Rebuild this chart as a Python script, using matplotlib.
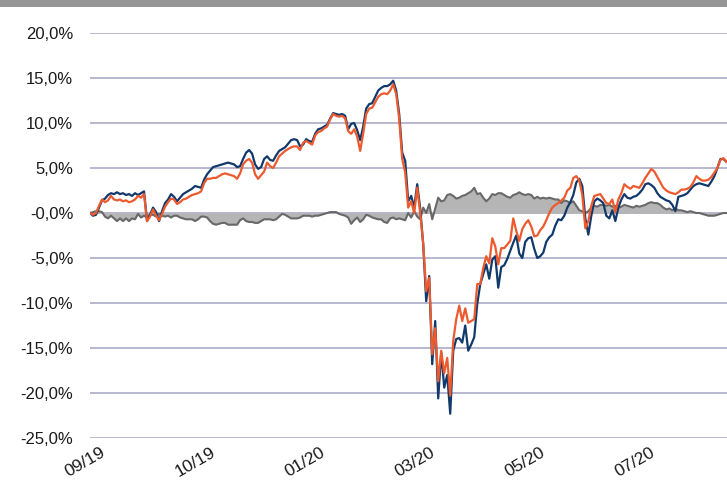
import numpy as np
import matplotlib
matplotlib.use("Agg")
import matplotlib.pyplot as plt
from matplotlib.patches import Rectangle

# ----------------------------------------------------------
# Data (percent), one value per observation
# ----------------------------------------------------------
navy = [
    0.0, -0.3, -0.2, 0.6, 1.4, 1.6, 2.0, 2.2, 2.1, 2.3,
    2.1, 2.2, 2.0, 2.1, 1.9, 2.2, 2.0, 2.2, 2.4, -0.9,
    -0.2, 0.6, 0.1, -0.9, 0.2, 1.1, 1.5, 2.1, 1.8, 1.3,
    1.7, 2.1, 2.3, 2.5, 2.7, 3.0, 2.9, 2.8, 3.7, 4.3,
    4.7, 5.1, 5.2, 5.3, 5.4, 5.5, 5.6, 5.5, 5.4, 5.1,
    5.2, 6.0, 6.7, 7.0, 6.6, 5.4, 4.9, 5.1, 6.0, 6.3,
    5.9, 5.8, 6.4, 6.9, 7.1, 7.3, 7.7, 8.1, 8.2, 8.1,
    7.4, 7.6, 8.2, 8.0, 7.9, 8.8, 9.3, 9.4, 9.6, 9.8,
    10.5, 11.1, 11.0, 10.9, 11.0, 10.8, 9.3, 9.9, 10.0, 9.2,
    8.1, 9.6, 11.6, 12.1, 12.2, 12.9, 13.6, 13.9, 14.1, 14.1,
    14.3, 14.7, 13.6, 11.0, 6.7, 5.8, 1.3, 1.9, 0.6, 3.2,
    0.5, -3.5, -9.8, -7.0, -16.8, -12.0, -20.6, -15.5, -19.4, -18.0,
    -22.3, -15.3, -14.0, -13.9, -14.4, -12.5, -15.3, -14.6, -13.8, -10.1,
    -7.9, -6.8, -5.7, -7.3, -5.2, -4.8, -8.3, -6.0, -5.8, -5.1,
    -4.2, -3.3, -2.5, -4.5, -5.0, -3.2, -2.8, -2.7, -4.0, -5.0,
    -4.8, -4.4, -3.2, -2.7, -2.4, -1.4, -0.7, -0.8, -0.3, 0.6,
    1.2, 2.0, 3.4, 3.8, 3.0, -0.6, -2.4, -0.3, 1.3, 1.6,
    1.4, 1.1, -0.3, -0.6, 0.3, -0.9, 0.6, 1.5, 2.1, 1.7,
    1.6, 1.8, 1.9, 2.2, 2.6, 3.2, 3.3, 3.1, 2.8, 2.2,
    1.8, 1.6, 1.4, 1.3, 0.9, 0.2, 1.8, 1.9, 2.0, 2.2,
    2.6, 3.0, 3.2, 3.3, 3.2, 3.1, 3.0, 3.5, 4.1, 5.0,
    6.0, 6.0, 5.7,
]

orange = [
    0.0, -0.2, 0.0, 0.8, 1.5, 1.2, 1.4, 1.9, 1.5, 1.4,
    1.5, 1.3, 1.4, 1.2, 1.3, 1.5, 1.9, 1.7, 2.1, -0.9,
    -0.4, 0.4, -0.3, -0.8, -0.1, 0.7, 1.2, 1.6, 1.5, 1.0,
    1.2, 1.5, 1.6, 1.8, 2.0, 2.1, 2.2, 2.4, 3.3, 3.8,
    3.8, 3.9, 3.9, 4.1, 4.3, 4.4, 4.3, 4.2, 4.1, 3.8,
    4.4, 5.4, 5.8, 6.0, 5.6, 4.3, 3.8, 4.2, 4.6, 5.6,
    5.2, 5.0, 5.6, 6.3, 6.6, 6.9, 7.1, 7.3, 7.4, 7.4,
    7.0, 7.8, 8.0, 7.8, 7.6, 8.6, 9.0, 9.1, 9.4, 9.6,
    10.4, 11.0, 10.8, 10.7, 10.8, 10.5, 9.1, 8.8, 9.3, 8.5,
    6.9, 8.8, 11.0, 11.6, 11.7, 12.3, 12.9, 13.2, 13.3, 13.2,
    13.6, 14.3, 13.2, 10.5, 6.0, 4.5, 0.6, 1.3, 0.0, 2.8,
    0.0, -3.4, -8.7, -7.2, -15.7, -12.8, -18.7, -15.3, -17.8, -16.1,
    -20.3, -14.2, -11.8, -10.3, -12.0, -10.6, -12.2, -12.0, -11.8, -7.9,
    -7.9, -6.1, -4.8, -5.6, -2.8, -3.7, -5.7, -3.9, -3.9, -3.5,
    -3.1, -0.6, -2.0, -3.1, -1.8, -1.2, -0.8, -1.5, -2.6, -2.5,
    -1.9, -1.5, -0.8, 0.0, 0.6, 0.9, 1.1, 1.4, 1.7, 2.5,
    2.8, 3.9, 4.1, 3.6, 2.0, -1.7, -0.9, 0.8, 1.9, 2.0,
    2.1, 1.6, 1.1, 1.0, 1.5, 0.1, 1.5, 2.2, 3.2, 2.9,
    2.7, 3.0, 2.9, 2.8, 3.3, 3.9, 4.4, 4.9, 4.6, 4.0,
    3.4, 2.8, 2.5, 2.3, 2.2, 2.1, 2.3, 2.6, 2.6, 2.7,
    2.9, 3.4, 4.1, 3.8, 3.6, 3.6, 3.7, 4.0, 4.5, 5.0,
    5.9, 6.1, 5.7,
]

spread = [
    0.0, 0.1, 0.2, 0.2, 0.1, -0.4, -0.6, -0.3, -0.6, -0.9,
    -0.6, -0.9, -0.6, -0.9, -0.6, -0.7, -0.1, -0.5, -0.3, -0.5,
    -0.2, -0.2, -0.4, -0.1, -0.3, -0.4, -0.3, -0.5, -0.3, -0.3,
    -0.5, -0.6, -0.7, -0.7, -0.7, -0.9, -0.7, -0.4, -0.4, -0.5,
    -0.9, -1.2, -1.3, -1.2, -1.1, -1.1, -1.3, -1.3, -1.3, -1.3,
    -0.8, -0.6, -0.9, -1.0, -1.0, -1.1, -1.1, -0.9, -0.7, -0.7,
    -0.7, -0.8, -0.7, -0.4, -0.1, -0.2, -0.4, -0.6, -0.6, -0.6,
    -0.5, -0.3, -0.3, -0.3, -0.4, -0.3, -0.3, -0.2, -0.1, 0.0,
    0.1, 0.1, 0.1, -0.1, -0.2, -0.3, -0.5, -1.2, -0.8, -0.5,
    -1.0, -0.7, -0.2, -0.3, -0.5, -0.6, -0.7, -0.7, -1.0, -1.1,
    -0.6, -0.5, -0.7, -0.6, -0.7, -0.8, 0.0, -0.5, 0.2, -0.4,
    -0.7, 0.6, 0.0, 1.0, -0.7, 0.5, 1.7, 1.3, 1.4, 2.0,
    2.1, 1.9, 1.6, 1.7, 1.9, 2.0, 2.2, 2.4, 2.8, 2.1,
    2.2, 1.7, 1.3, 1.6, 2.1, 2.0, 2.2, 2.2, 2.0, 1.8,
    1.7, 2.0, 2.1, 2.3, 2.1, 2.0, 2.1, 2.0, 1.6, 1.8,
    1.6, 1.7, 1.6, 1.7, 1.6, 1.5, 1.5, 1.1, 1.4, 1.3,
    1.1, 1.3, 0.8, 0.3, 0.2, 0.0, 0.2, 0.6, 0.8, 0.7,
    0.9, 0.9, 0.8, 0.9, 0.7, 0.8, 0.6, 0.7, 0.9, 0.8,
    0.7, 0.6, 0.8, 0.7, 0.8, 0.9, 1.1, 1.2, 1.1, 1.1,
    0.9, 0.6, 0.4, 0.5, 0.3, 0.5, 0.3, 0.3, 0.2, 0.1,
    0.2, 0.1, 0.0, 0.0, -0.1, -0.2, -0.3, -0.3, -0.3, -0.2,
    -0.1, 0.0, 0.0,
]

x_labels = ["09/19", "10/19", "01/20", "03/20", "05/20", "07/20"]
y_ticks = [20, 15, 10, 5, 0, -5, -10, -15, -20, -25]
y_labels = ["20,0%", "15,0%", "10,0%", "5,0%", "-0,0%",
            "-5,0%", "-10,0%", "-15,0%", "-20,0%", "-25,0%"]

# ----------------------------------------------------------
# Style
# ----------------------------------------------------------
NAVY = "#12396b"
ORANGE = "#ec5a2e"
GREY_LINE = "#686868"
GREY_FILL = "#b5b5b5"
GRID = "#b7b7cf"
BAR = "#969696"

plt.rcParams["font.family"] = ["Liberation Sans", "DejaVu Sans"]

W, H = 727, 483
fig = plt.figure(figsize=(W / 100, H / 100), dpi=100)
fig.patches.append(Rectangle((0, 1 - 7 / H), 1, 7 / H, transform=fig.transFigure,
                             facecolor=BAR, edgecolor="none"))

ax = fig.add_axes([90 / W, 1 - 438 / H, 1 - 90 / W, (438 - 33) / H])

x = np.arange(len(navy))
ax.fill_between(x, spread, 0, color=GREY_FILL, linewidth=0, zorder=2)
ax.plot(x, spread, color=GREY_LINE, lw=1.5, zorder=3)
ax.plot(x, navy, color=NAVY, lw=1.6, zorder=4)
ax.plot(x, orange, color=ORANGE, lw=1.6, zorder=5)

ax.set_ylim(-25, 20)
ax.set_xlim(0, len(navy) - 0.8)
ax.set_yticks(y_ticks)
ax.set_yticklabels(y_labels, fontsize=12, color="#1a1a1a")
ax.yaxis.grid(True, color=GRID, lw=1.4, zorder=1)
ax.set_axisbelow(True)

tick_pos = [3.5, 40, 76.7, 113.3, 150, 186.5]
ax.set_xticks(tick_pos)
ax.set_xticklabels(x_labels, fontsize=12.5, color="#1a1a1a",
                   rotation=30, ha="right", rotation_mode="anchor")
ax.tick_params(axis="both", length=0)
ax.tick_params(axis="y", pad=12)
ax.tick_params(axis="x", pad=5)

for s in ax.spines.values():
    s.set_visible(False)

fig.savefig("out.png", dpi=100)
